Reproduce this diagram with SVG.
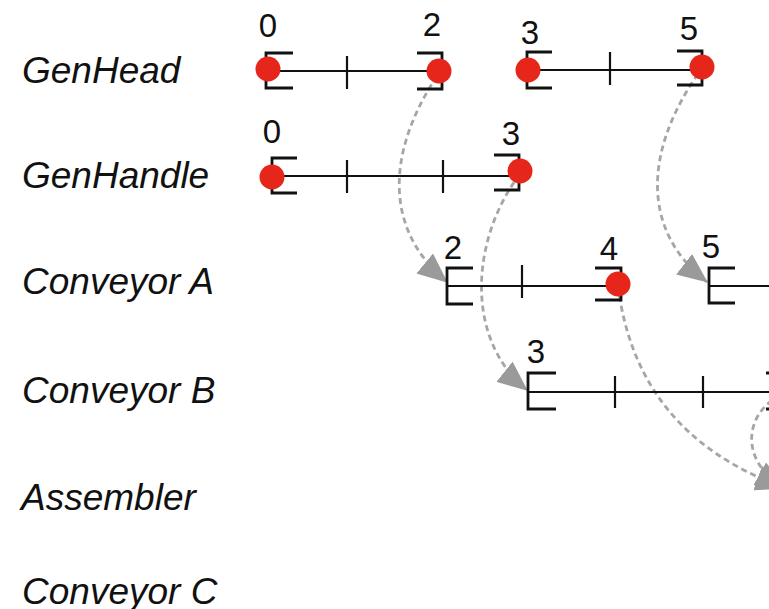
<svg xmlns="http://www.w3.org/2000/svg" width="769" height="609" viewBox="0 0 769 609">
<style>
.row{font-family:"Liberation Sans",Arial,sans-serif;font-style:italic;font-size:37px;fill:#111}
.num{font-family:"Liberation Sans",Arial,sans-serif;font-size:33px;fill:#111;text-anchor:middle}
.ln{stroke:#111;stroke-width:2.2;fill:none}
.br{stroke:#111;stroke-width:2.8;fill:none}
.dot{fill:#e6261b}
.conn{stroke:#a6a6a6;stroke-width:2.8;fill:none;stroke-dasharray:6 4;marker-end:url(#ah)}
</style>
<defs>
<marker id="ah" viewBox="0 0 30 26" refX="29" refY="13" markerWidth="30" markerHeight="26" markerUnits="userSpaceOnUse" orient="auto">
<path d="M0,0 L30,13 L0,26 z" fill="#9a9a9a"/>
</marker>
</defs>
<rect width="769" height="609" fill="#fff"/>
<g id="labels">
<text class="row" x="22" y="83">GenHead</text>
<text class="row" x="22" y="188">GenHandle</text>
<text class="row" x="22" y="294">Conveyor A</text>
<text class="row" x="22" y="403">Conveyor B</text>
<text class="row" x="21" y="510">Assembler</text>
<text class="row" x="22" y="604">Conveyor C</text>
</g>
<g id="connectors">
<path class="conn" d="M437,76 C388,150 382,228 447,282"/>
<path class="conn" d="M698,74 C645,150 640,230 707,282"/>
<path class="conn" d="M520,174 C470,240 465,340 527,390"/>
<path class="conn" d="M618,286 C630,380 680,450 785,488"/>
<path class="conn" d="M790,392 C745,405 735,460 785,488"/>
</g>
<g id="genhead-1">
<line class="ln" x1="266" y1="71" x2="442" y2="71"/>
<path class="br" d="M293,53 H266 V88 H293"/>
<path class="br" d="M417,53 H442 V89 H417"/>
<line class="ln" x1="347" y1="56" x2="347" y2="89"/>
<circle class="dot" cx="268" cy="69" r="12.5"/>
<circle class="dot" cx="439" cy="71" r="12.5"/>
<text class="num" x="268" y="37">0</text>
<text class="num" x="432" y="36">2</text>
</g>
<g id="genhead-2">
<line class="ln" x1="527" y1="70" x2="702" y2="70"/>
<path class="br" d="M552,52 H527 V88 H552"/>
<path class="br" d="M677,51 H702 V85 H677"/>
<line class="ln" x1="610" y1="52" x2="610" y2="85"/>
<circle class="dot" cx="528" cy="70" r="12.5"/>
<circle class="dot" cx="702" cy="67" r="12.5"/>
<text class="num" x="530" y="44">3</text>
<text class="num" x="689" y="40">5</text>
</g>
<g id="genhandle-1">
<line class="ln" x1="272" y1="176" x2="519" y2="176"/>
<path class="br" d="M297,158 H272 V193 H297"/>
<path class="br" d="M494,155 H519 V190 H494"/>
<line class="ln" x1="347" y1="160" x2="347" y2="193"/>
<line class="ln" x1="443" y1="160" x2="443" y2="193"/>
<circle class="dot" cx="272" cy="177" r="12.5"/>
<circle class="dot" cx="520" cy="171" r="12.5"/>
<text class="num" x="272" y="143">0</text>
<text class="num" x="511" y="145">3</text>
</g>
<g id="conveyorA-1">
<line class="ln" x1="447" y1="286" x2="621" y2="286"/>
<path class="br" d="M473,268 H447 V304 H473"/>
<path class="br" d="M595,268 H621 V300 H595"/>
<line class="ln" x1="522" y1="265" x2="522" y2="298"/>
<circle class="dot" cx="618" cy="284" r="12.5"/>
<text class="num" x="453" y="259">2</text>
<text class="num" x="609" y="260">4</text>
</g>
<g id="conveyorA-2">
<line class="ln" x1="709" y1="286" x2="769" y2="286"/>
<path class="br" d="M735,268 H709 V303 H735"/>
<text class="num" x="711" y="258">5</text>
</g>
<g id="conveyorB-1">
<line class="ln" x1="528" y1="392" x2="791" y2="392"/>
<path class="br" d="M556,373 H528 V409 H556"/>
<path class="br" d="M766,373 H791 V409 H766"/>
<line class="ln" x1="615" y1="376" x2="615" y2="408"/>
<line class="ln" x1="703" y1="376" x2="703" y2="408"/>
<text class="num" x="536" y="363">3</text>
</g>
</svg>
